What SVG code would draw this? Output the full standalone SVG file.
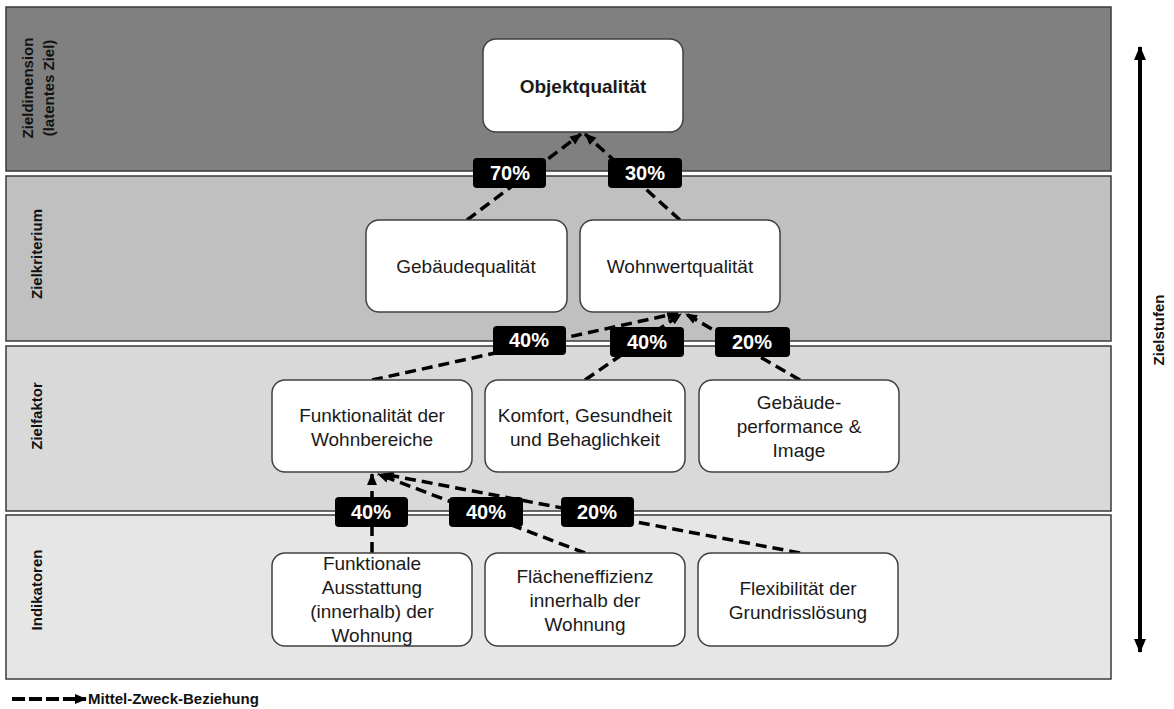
<svg xmlns="http://www.w3.org/2000/svg" width="1174" height="709" viewBox="0 0 1174 709">
  <defs>
    <style>
      .band { stroke: #3a3a3a; stroke-width: 1.5; }
      .side { font-family: "Liberation Sans", Arial, sans-serif; font-size: 15px; font-weight: bold; fill: #111; text-anchor: middle; }
      .node rect { fill: #ffffff; stroke: #404040; stroke-width: 1.5; }
      .node text { font-family: "Liberation Sans", Arial, sans-serif; font-size: 19px; fill: #1a1a1a; text-anchor: middle; }
      .node text.bold { font-weight: bold; }
      .edge { fill: none; stroke: #000; stroke-width: 3.5; stroke-dasharray: 11 6; marker-end: url(#head); }
      .pct rect { fill: #000; }
      .pct text { font-family: "Liberation Sans", Arial, sans-serif; font-size: 20px; font-weight: bold; fill: #fff; text-anchor: middle; }
    </style>
    <marker id="head" markerUnits="userSpaceOnUse" markerWidth="12" markerHeight="12" viewBox="0 0 12 10" refX="11" refY="5" orient="auto">
      <path d="M0,0 L12,5 L0,10 z" fill="#000"/>
    </marker>
    <marker id="bighead" markerUnits="userSpaceOnUse" markerWidth="14" markerHeight="12" viewBox="0 0 14 12" refX="13" refY="6" orient="auto-start-reverse">
      <path d="M0,0 L14,6 L0,12 z" fill="#000"/>
    </marker>
  </defs>

  <rect width="1174" height="709" fill="#ffffff"/>

  <!-- level bands -->
  <g id="bands">
    <rect class="band" x="6" y="7" width="1105" height="164" fill="#808080"/>
    <rect class="band" x="6" y="176" width="1105" height="165" fill="#c0c0c0"/>
    <rect class="band" x="6" y="346" width="1105" height="165" fill="#d9d9d9"/>
    <rect class="band" x="6" y="515" width="1105" height="164" fill="#e6e6e6"/>
  </g>

  <!-- level names -->
  <g id="level-labels">
    <text class="side" transform="translate(33,88) rotate(-90)">Zieldimension</text>
    <text class="side" transform="translate(54,88) rotate(-90)">(latentes Ziel)</text>
    <text class="side" transform="translate(42,254) rotate(-90)">Zielkriterium</text>
    <text class="side" transform="translate(42,416) rotate(-90)">Zielfaktor</text>
    <text class="side" transform="translate(42,590) rotate(-90)">Indikatoren</text>
  </g>

  <!-- hierarchy axis -->
  <g id="axis">
    <line x1="1140" y1="47" x2="1140" y2="652" stroke="#000" stroke-width="4" marker-start="url(#bighead)" marker-end="url(#bighead)"/>
    <text class="side" transform="translate(1164,330) rotate(-90)">Zielstufen</text>
  </g>

  <!-- means-end connectors -->
  <g id="connectors">
    <line class="edge" x1="467" y1="220" x2="581" y2="134"/>
    <line class="edge" x1="680" y1="220" x2="585" y2="134"/>
    <line class="edge" x1="372" y1="380" x2="678" y2="313"/>
    <line class="edge" x1="585" y1="380" x2="681" y2="314"/>
    <line class="edge" x1="800" y1="380" x2="686" y2="314"/>
    <line class="edge" x1="372" y1="553" x2="372" y2="474"/>
    <line class="edge" x1="585" y1="553" x2="378" y2="474"/>
    <line class="edge" x1="800" y1="553" x2="383" y2="474"/>
  </g>

  <!-- weights -->
  <g id="weights" class="pct">
    <rect x="473" y="158" width="73" height="30" rx="4"/><text x="510" y="180">70%</text>
    <rect x="608" y="158" width="74" height="30" rx="4"/><text x="645" y="180">30%</text>
    <rect x="493" y="326" width="73" height="29" rx="4"/><text x="529" y="347">40%</text>
    <rect x="610" y="327" width="74" height="30" rx="4"/><text x="647" y="349">40%</text>
    <rect x="715" y="327" width="75" height="30" rx="4"/><text x="752" y="349">20%</text>
    <rect x="335" y="497" width="73" height="30" rx="4"/><text x="371" y="519">40%</text>
    <rect x="449" y="497" width="74" height="30" rx="4"/><text x="486" y="519">40%</text>
    <rect x="561" y="497" width="73" height="30" rx="4"/><text x="597" y="519">20%</text>
  </g>

  <!-- Zieldimension -->
  <g id="objektqualitaet" class="node">
    <rect x="483" y="39" width="200" height="93" rx="13"/>
    <text class="bold" x="583" y="93">Objektqualität</text>
  </g>

  <!-- Zielkriterien -->
  <g id="gebaeudequalitaet" class="node">
    <rect x="366" y="220" width="201" height="92" rx="13"/>
    <text x="466" y="273">Gebäudequalität</text>
  </g>
  <g id="wohnwertqualitaet" class="node">
    <rect x="580" y="220" width="200" height="92" rx="13"/>
    <text x="680" y="273">Wohnwertqualität</text>
  </g>

  <!-- Zielfaktoren -->
  <g id="funktionalitaet" class="node">
    <rect x="272" y="380" width="200" height="92" rx="13"/>
    <text x="372" y="422">Funktionalität der</text>
    <text x="372" y="446">Wohnbereiche</text>
  </g>
  <g id="komfort" class="node">
    <rect x="485" y="380" width="200" height="92" rx="13"/>
    <text x="585" y="422">Komfort, Gesundheit</text>
    <text x="585" y="446">und Behaglichkeit</text>
  </g>
  <g id="gebaeudeperformance" class="node">
    <rect x="699" y="380" width="200" height="92" rx="13"/>
    <text x="799" y="409">Gebäude-</text>
    <text x="799" y="433">performance &amp;</text>
    <text x="799" y="457">Image</text>
  </g>

  <!-- Indikatoren -->
  <g id="ausstattung" class="node">
    <rect x="272" y="553" width="200" height="93" rx="13"/>
    <text x="372" y="570">Funktionale</text>
    <text x="372" y="594">Ausstattung</text>
    <text x="372" y="618">(innerhalb) der</text>
    <text x="372" y="642">Wohnung</text>
  </g>
  <g id="flaecheneffizienz" class="node">
    <rect x="485" y="553" width="200" height="93" rx="13"/>
    <text x="585" y="583">Flächeneffizienz</text>
    <text x="585" y="607">innerhalb der</text>
    <text x="585" y="631">Wohnung</text>
  </g>
  <g id="flexibilitaet" class="node">
    <rect x="698" y="553" width="200" height="93" rx="13"/>
    <text x="798" y="595">Flexibilität der</text>
    <text x="798" y="619">Grundrisslösung</text>
  </g>

  <!-- legend -->
  <g id="legend">
    <line x1="12" y1="699" x2="86" y2="699" stroke="#000" stroke-width="4" stroke-dasharray="13 4" marker-end="url(#head)"/>
    <text x="88" y="704" font-family="Liberation Sans, Arial, sans-serif" font-size="15" font-weight="bold" fill="#111">Mittel-Zweck-Beziehung</text>
  </g>
</svg>
